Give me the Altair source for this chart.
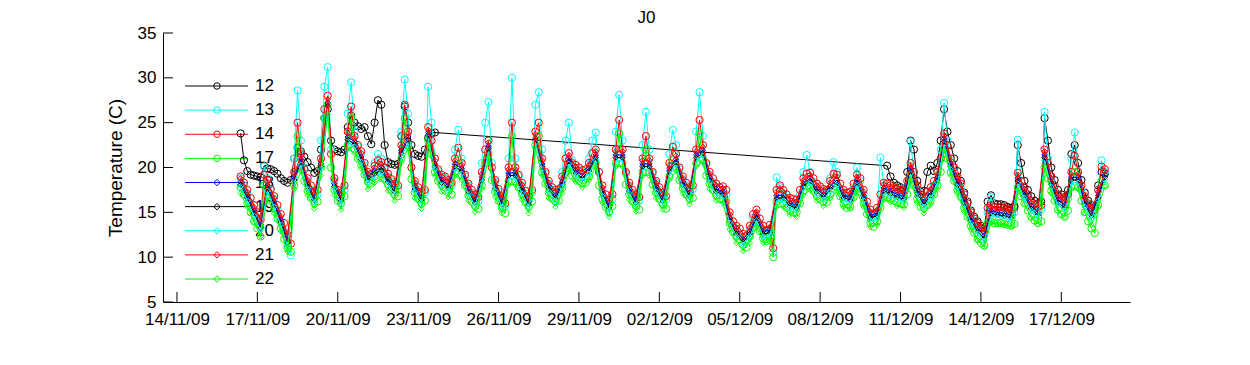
import altair as alt
import pandas as pd

# ---------------- data ----------------
series_names = ["12", "13", "14", "17", "18", "19", "20", "21", "22"]
series_colors = ["#000000", "#00ffff", "#ff0000", "#00ff00", "#0000ff",
                 "#000000", "#00ffff", "#ff0000", "#00ff00"]
series_shapes = ["circle", "circle", "circle", "circle",
                 "diamond", "diamond", "diamond", "diamond", "diamond"]

tick_dates = ["2009-11-14", "2009-11-17", "2009-11-20", "2009-11-23", "2009-11-26",
              "2009-11-29", "2009-12-02", "2009-12-05", "2009-12-08", "2009-12-11",
              "2009-12-14", "2009-12-17"]
y_ticks = [5, 10, 15, 20, 25, 30, 35]

start_3h = "2009-11-16 09:00"   # 3-hourly records
start_6h = "2009-11-16 09:00"   # 6-hourly records
start_12b = "2009-12-10 12:00"  # logger 12 second block

# logger 12 (black circles), block A from 16/11 09:00, 3-hourly
s12_a = [23.8, 20.8, 19.6, 19.2, 19.1,
         19.0, 18.9, 20.2, 19.9, 19.8, 19.6, 19.3, 18.8,
         18.5, 18.3, 18.6, 21.0, 22.2, 21.8, 21.2, 20.6,
         20.0, 19.4, 19.6, 22.0, 25.5, 26.5, 23.0, 22.0,
         21.8, 21.7, 22.0, 24.5, 25.8, 25.0, 24.6, 24.3,
         24.5, 23.5, 22.6, 25.0, 27.5, 27.0, 22.5, 20.6,
         20.4, 20.3, 20.4, 23.5, 26.8, 25.0, 22.5, 21.5,
         21.3, 21.2, 22.0, 23.3, 23.8, 23.9]
# logger 12, block B from 10/12 12:00, 3-hourly
s12_b = [20.2, 19.0, 18.3, 18.0,
         17.8, 17.6, 19.5, 23.0, 22.0, 18.5, 17.3, 17.4,
         19.5, 20.2, 19.6, 20.5, 23.0, 26.5, 24.0, 22.5,
         21.0, 19.6, 18.5, 17.2, 16.2, 15.2, 14.5, 14.0,
         13.5, 13.2, 16.2, 16.9, 16.0, 15.9, 15.9, 15.8,
         15.6, 15.5, 15.7, 22.5, 20.5, 18.5, 17.5, 16.8,
         16.3, 16.0, 16.2, 25.5, 23.0, 20.0, 18.6, 17.5,
         17.0, 16.7, 17.5, 21.5, 22.5, 20.5, 18.6, 17.2,
         16.3, 15.8, 15.6, 18.0, 19.5, 19.3]

# logger 13 (cyan circles), 3-hourly
s13 = [18.8, 18.0, 17.0, 16.0, 15.2,
       14.3, 13.3, 20.1, 18.8, 17.5, 16.5, 15.3, 14.0,
       12.8, 11.3, 10.2, 21.0, 28.6, 23.0, 20.0, 18.5,
       17.5, 16.8, 17.0, 23.0, 29.0, 31.2, 22.0, 18.5,
       17.0, 16.8, 17.5, 26.0, 29.5, 24.0, 22.3, 21.5,
       20.2, 19.2, 19.0, 20.5, 21.5, 21.0, 19.8, 19.0,
       18.4, 17.9, 17.6, 24.0, 29.8, 26.0, 20.0, 18.2,
       17.5, 17.0, 17.2, 29.0, 25.0, 21.0, 19.6, 19.0,
       18.8, 18.3, 18.0, 22.0, 24.2, 21.0, 19.0, 18.0,
       17.2, 16.6, 16.3, 20.5, 25.0, 27.3, 20.5, 18.4,
       17.3, 16.5, 15.7, 21.0, 30.0, 21.0, 19.0, 18.0,
       17.1, 16.5, 17.2, 27.0, 28.4, 22.0, 19.3, 18.2,
       17.5, 17.2, 17.3, 19.5, 23.0, 25.0, 20.8, 20.0,
       19.7, 19.3, 19.5, 21.0, 23.0, 23.9, 19.5, 17.5,
       16.5, 15.0, 16.5, 24.0, 28.1, 23.0, 19.3, 18.0,
       17.2, 16.7, 16.3, 22.5, 26.2, 22.0, 19.3, 18.3,
       17.5, 16.9, 16.4, 21.5, 24.2, 22.5, 19.8, 18.7,
       18.0, 17.5, 17.6, 24.0, 28.4, 23.5, 20.3, 19.2,
       18.4, 17.8, 17.3, 17.4, 17.0, 14.6, 13.6, 13.0,
       12.7, 12.1, 11.9, 13.0, 14.4, 14.8, 13.8, 13.0,
       12.5, 13.1, 10.5, 18.9, 17.8, 17.1, 16.6, 16.2,
       16.0, 15.9, 17.0, 19.5, 21.4, 19.5, 18.4, 17.7,
       17.4, 17.1, 17.0, 18.8, 20.6, 19.5, 17.7, 17.0,
       16.7, 16.8, 17.8, 20.0, 18.5, 17.0, 15.7, 14.8,
       14.4, 15.0, 21.1, 18.0, 17.6, 17.3, 17.0, 16.9,
       16.8, 16.7, 18.0, 22.9, 19.5, 17.5, 16.5, 16.3,
       16.8, 17.3, 18.0, 19.5, 22.0, 27.2, 23.0, 20.8,
       19.5, 18.5, 17.7, 16.5, 15.5, 14.5, 13.8, 13.3,
       12.8, 12.5, 15.0, 16.7, 15.0, 14.9, 14.9, 14.8,
       14.8, 14.7, 15.0, 23.1, 18.5, 17.3, 16.5, 15.8,
       15.4, 15.1, 15.3, 26.2, 21.0, 18.6, 17.5, 16.5,
       16.1, 15.9, 16.5, 21.0, 23.9, 19.5, 17.5, 16.3,
       15.5, 15.0, 14.8, 17.5, 20.8, 19.5]

# logger 14 (red circles), 3-hourly
s14 = [19.0, 18.3, 17.5, 16.6, 15.8,
       15.0, 14.2, 19.2, 18.6, 17.6, 16.8, 15.8, 14.8,
       13.8, 12.5, 11.5, 19.5, 25.0, 21.5, 19.8, 18.8,
       18.0, 17.3, 17.5, 21.0, 26.5, 28.0, 21.5, 18.8,
       17.5, 17.2, 18.0, 24.0, 26.8, 23.5, 22.5, 21.8,
       20.5, 19.5, 19.3, 20.2, 20.8, 20.6, 20.0, 19.3,
       18.7, 18.2, 18.0, 22.5, 27.0, 24.0, 20.0, 18.5,
       17.8, 17.3, 17.5, 24.5, 23.0, 21.0, 19.8, 19.2,
       19.0, 18.6, 18.3, 21.0, 22.2, 20.5, 19.2, 18.2,
       17.5, 17.0, 16.7, 19.5, 22.0, 23.0, 20.0, 18.6,
       17.6, 16.8, 16.0, 20.0, 25.0, 20.0, 19.2, 18.3,
       17.4, 16.8, 17.5, 24.0, 25.0, 21.0, 19.5, 18.5,
       17.8, 17.5, 17.6, 19.0, 21.0, 21.6, 20.5, 20.3,
       20.0, 19.7, 19.8, 20.5, 21.6, 22.0, 19.5, 18.0,
       17.0, 16.4, 17.0, 22.0, 25.3, 22.0, 19.5, 18.3,
       17.5, 17.0, 16.7, 21.0, 23.5, 21.0, 19.5, 18.5,
       17.8, 17.2, 16.8, 20.5, 22.3, 21.5, 20.0, 19.0,
       18.3, 17.8, 18.0, 22.0, 25.3, 22.5, 20.5, 19.5,
       18.8, 18.2, 17.8, 17.9, 17.5, 15.0, 14.0, 13.5,
       13.2, 12.6, 12.4, 13.5, 14.8, 15.3, 14.3, 13.5,
       13.0, 13.6, 11.0, 17.5, 18.0, 17.5, 17.0, 16.6,
       16.5, 16.4, 17.5, 18.8, 19.3, 19.4, 18.8, 18.2,
       17.9, 17.6, 17.5, 18.5, 19.3, 19.2, 18.2, 17.5,
       17.2, 17.3, 18.2, 19.2, 18.8, 17.5, 16.2, 15.3,
       14.9, 15.5, 17.0, 18.3, 18.2, 18.0, 17.8, 17.6,
       17.5, 17.4, 18.5, 20.5, 19.5, 18.0, 17.0, 16.8,
       17.3, 17.8, 18.5, 19.5, 21.0, 23.8, 22.5, 21.0,
       20.0, 19.0, 18.2, 17.0, 16.0, 15.0, 14.3, 13.8,
       13.3, 13.0, 15.5, 15.8, 15.6, 15.6, 15.6, 15.5,
       15.4, 15.3, 15.5, 19.4, 18.5, 17.8, 17.0, 16.3,
       15.9, 15.6, 15.8, 22.0, 20.5, 19.0, 18.0, 17.0,
       16.6, 16.4, 17.0, 19.5, 21.3, 19.5, 18.0, 16.8,
       16.0, 15.5, 15.3, 17.5, 20.1, 19.8]

# logger 17 (green circles), 3-hourly
s17 = [17.8, 17.0, 16.0, 15.0, 14.0,
       13.2, 12.3, 18.0, 17.3, 16.3, 15.4, 14.3, 13.2,
       12.0, 11.0, 10.6, 18.0, 23.5, 20.0, 18.5, 17.4,
       16.6, 16.0, 16.2, 20.0, 25.5, 27.0, 20.0, 17.5,
       16.3, 16.0, 16.8, 22.5, 25.5, 22.0, 21.0, 20.3,
       19.2, 18.4, 18.2, 19.0, 19.5, 19.3, 18.8, 18.1,
       17.5, 17.0, 16.8, 21.0, 25.5, 22.5, 18.7, 17.2,
       16.5, 16.0, 16.3, 23.0, 21.5, 19.5, 18.5, 18.0,
       17.8, 17.4, 17.0, 19.5, 20.8, 19.2, 18.0, 16.9,
       16.2, 15.7, 15.4, 18.0, 20.5, 21.5, 18.6, 17.3,
       16.3, 15.5, 14.9, 18.5, 23.5, 18.5, 17.8, 17.0,
       16.1, 15.6, 16.2, 22.5, 23.5, 19.5, 18.2, 17.2,
       16.5, 16.2, 16.3, 17.7, 19.5, 20.2, 19.1, 18.8,
       18.5, 18.2, 18.3, 19.0, 20.2, 20.5, 18.0, 16.5,
       15.6, 15.1, 15.7, 20.5, 23.8, 20.5, 18.1, 17.0,
       16.2, 15.7, 15.3, 19.5, 22.0, 19.5, 18.1, 17.2,
       16.5, 15.9, 15.4, 19.0, 20.8, 20.0, 18.6, 17.7,
       17.0, 16.5, 16.6, 20.5, 23.8, 21.0, 19.1, 18.2,
       17.5, 16.9, 16.5, 16.5, 16.2, 13.8, 12.8, 12.3,
       12.0, 11.4, 11.1, 12.3, 13.4, 13.8, 12.9, 12.1,
       11.8, 12.3, 10.0, 16.2, 16.5, 16.0, 15.5, 15.2,
       15.0, 15.0, 16.0, 17.4, 17.9, 18.0, 17.4, 16.8,
       16.5, 16.2, 16.1, 17.0, 17.9, 17.8, 16.8, 16.0,
       15.5, 15.6, 16.7, 17.7, 17.3, 16.0, 14.8, 13.8,
       13.4, 14.0, 15.5, 16.8, 16.7, 16.5, 16.3, 16.1,
       16.0, 15.9, 17.0, 19.0, 18.0, 16.5, 15.6, 15.5,
       15.8, 16.3, 17.0, 18.0, 19.5, 22.0, 21.0, 19.5,
       18.5, 17.5, 16.7, 15.5, 14.5, 13.5, 12.7, 12.0,
       11.6, 11.3, 13.8, 14.0, 13.8, 13.8, 13.8, 13.7,
       13.6, 13.5, 13.7, 17.8, 16.8, 16.0, 15.2, 14.5,
       14.1, 13.8, 14.0, 20.0, 18.8, 17.4, 16.3, 15.3,
       14.8, 14.5, 15.2, 17.8, 19.5, 17.8, 16.3, 15.0,
       14.0, 13.2, 12.7, 15.8, 18.5, 18.0]

# loggers 18-22 (diamonds), 6-hourly
s18 = [18.4, 16.9, 15.2,
       13.6, 18.0, 16.2, 14.2,
       11.9, 18.9, 20.9, 18.2,
       16.7, 20.4, 27.2, 18.2,
       16.6, 23.4, 22.9, 21.2,
       18.9, 19.6, 20.0, 18.7,
       17.6, 21.9, 23.4, 17.9,
       16.7, 23.9, 20.4, 18.6,
       18.0, 20.4, 19.9, 17.6,
       16.4, 18.9, 22.4, 18.0,
       16.2, 19.4, 19.4, 17.7,
       16.2, 23.3, 20.4, 17.9,
       16.9, 18.4, 21.0, 19.7,
       19.1, 19.9, 21.4, 17.4,
       15.8, 21.4, 21.4, 17.7,
       16.4, 20.4, 20.4, 17.9,
       16.6, 19.9, 20.9, 18.4,
       17.2, 21.4, 21.9, 18.9,
       17.6, 17.3, 14.4, 12.9,
       12.0, 12.9, 14.7, 12.9,
       13.0, 16.9, 16.9, 16.0,
       15.8, 18.2, 18.8, 17.6,
       17.0, 17.9, 18.6, 16.9,
       16.7, 18.6, 16.9, 14.7,
       14.9, 17.7, 17.4, 17.0,
       16.8, 19.9, 17.4, 16.2,
       17.2, 18.9, 23.2, 20.4,
       18.4, 16.4, 14.4, 13.2,
       12.4, 15.2, 15.0, 14.9,
       14.7, 18.8, 17.2, 15.7,
       15.0, 21.4, 18.4, 16.4,
       15.8, 18.9, 18.9, 16.2,
       14.9, 16.9, 19.2]

s19 = [18.1, 16.6, 14.9,
       13.3, 17.7, 15.9, 13.9,
       11.6, 18.6, 20.6, 17.9,
       16.4, 20.1, 26.9, 17.9,
       16.3, 23.1, 22.6, 20.9,
       18.6, 19.3, 19.7, 18.4,
       17.3, 21.6, 23.1, 17.6,
       16.4, 23.6, 20.1, 18.3,
       17.7, 20.1, 19.6, 17.3,
       16.1, 18.6, 22.1, 17.7,
       15.9, 19.1, 19.1, 17.4,
       15.9, 23.0, 20.1, 17.6,
       16.6, 18.1, 20.7, 19.4,
       18.8, 19.6, 21.1, 17.1,
       15.5, 21.1, 21.1, 17.4,
       16.1, 20.1, 20.1, 17.6,
       16.3, 19.6, 20.6, 18.1,
       16.9, 21.1, 21.6, 18.6,
       17.3, 17.0, 14.1, 12.6,
       11.7, 12.6, 14.4, 12.6,
       12.7, 16.6, 16.6, 15.7,
       15.5, 17.9, 18.5, 17.3,
       16.7, 17.6, 18.3, 16.6,
       16.4, 18.3, 16.6, 14.4,
       14.6, 17.4, 17.1, 16.7,
       16.5, 19.6, 17.1, 15.9,
       16.9, 18.6, 22.9, 20.1,
       18.1, 16.1, 14.1, 12.9,
       12.1, 14.9, 14.7, 14.6,
       14.4, 18.5, 16.9, 15.4,
       14.7, 21.1, 18.1, 16.1,
       15.5, 18.6, 18.6, 15.9,
       14.6, 16.6, 18.9]

s20 = [17.8, 16.3, 14.6,
       13.0, 17.4, 15.6, 13.6,
       11.3, 18.3, 20.3, 17.6,
       16.1, 19.8, 26.6, 17.6,
       16.0, 22.8, 22.3, 20.6,
       18.3, 19.0, 19.4, 18.1,
       17.0, 21.3, 22.8, 17.3,
       16.1, 23.3, 19.8, 18.0,
       17.4, 19.8, 19.3, 17.0,
       15.8, 18.3, 21.8, 17.4,
       15.6, 18.8, 18.8, 17.1,
       15.6, 22.8, 19.8, 17.3,
       16.3, 17.8, 20.4, 19.1,
       18.5, 19.3, 20.8, 16.8,
       15.2, 20.8, 20.8, 17.1,
       15.8, 19.8, 19.8, 17.3,
       16.0, 19.3, 20.3, 17.8,
       16.6, 20.8, 21.3, 18.3,
       17.0, 16.7, 13.8, 12.3,
       11.4, 12.3, 14.1, 12.3,
       12.4, 16.3, 16.3, 15.4,
       15.2, 17.6, 18.2, 17.0,
       16.4, 17.3, 18.0, 16.3,
       16.1, 18.0, 16.3, 14.1,
       14.3, 17.1, 16.8, 16.4,
       16.2, 19.3, 16.8, 15.6,
       16.6, 18.3, 22.6, 19.8,
       17.8, 15.8, 13.8, 12.6,
       11.8, 14.6, 14.4, 14.3,
       14.1, 18.2, 16.6, 15.1,
       14.4, 20.8, 17.8, 15.8,
       15.2, 18.3, 18.3, 15.6,
       14.3, 16.3, 18.6]

s21 = [18.8, 17.3, 15.6,
       14.0, 18.4, 16.6, 14.6,
       12.3, 19.3, 21.3, 18.6,
       17.1, 20.8, 27.6, 18.6,
       17.0, 23.8, 23.3, 21.6,
       19.3, 20.0, 20.4, 19.1,
       18.0, 22.3, 23.8, 18.3,
       17.1, 24.2, 20.8, 19.0,
       18.4, 20.8, 20.3, 18.0,
       16.8, 19.3, 22.8, 18.4,
       16.6, 19.8, 19.8, 18.1,
       16.6, 23.7, 20.8, 18.3,
       17.3, 18.8, 21.4, 20.1,
       19.5, 20.3, 21.8, 17.8,
       16.2, 21.8, 21.8, 18.1,
       16.8, 20.8, 20.8, 18.3,
       17.0, 20.3, 21.3, 18.8,
       17.6, 21.8, 22.3, 19.3,
       18.0, 17.7, 14.8, 13.3,
       12.4, 13.3, 15.1, 13.3,
       13.4, 17.3, 17.3, 16.4,
       16.2, 18.6, 19.2, 18.0,
       17.4, 18.3, 19.0, 17.3,
       17.1, 19.0, 17.3, 15.1,
       15.3, 18.1, 17.8, 17.4,
       17.2, 20.3, 17.8, 16.6,
       17.6, 19.3, 23.6, 20.8,
       18.8, 16.8, 14.8, 13.6,
       12.8, 15.6, 15.4, 15.3,
       15.1, 19.2, 17.6, 16.1,
       15.4, 21.8, 18.8, 16.8,
       16.2, 19.3, 19.3, 16.6,
       15.3, 17.3, 19.6]

s22 = [17.1, 15.6, 13.9,
       12.3, 16.7, 14.9, 12.9,
       10.6, 17.6, 19.6, 16.9,
       15.4, 19.1, 25.9, 16.9,
       15.3, 22.1, 21.6, 19.9,
       17.6, 18.3, 18.7, 17.4,
       16.3, 20.6, 22.1, 16.6,
       15.4, 22.6, 19.1, 17.3,
       16.7, 19.1, 18.6, 16.3,
       15.1, 17.6, 21.1, 16.7,
       14.9, 18.1, 18.1, 16.4,
       14.9, 22.1, 19.1, 16.6,
       15.6, 17.1, 19.7, 18.4,
       17.8, 18.6, 20.1, 16.1,
       14.5, 20.1, 20.1, 16.4,
       15.1, 19.1, 19.1, 16.6,
       15.3, 18.6, 19.6, 17.1,
       15.9, 20.1, 20.6, 17.6,
       16.3, 16.0, 13.1, 11.6,
       10.7, 11.6, 13.4, 11.6,
       11.7, 15.6, 15.6, 14.7,
       14.5, 16.9, 17.5, 16.3,
       15.7, 16.6, 17.3, 15.6,
       15.4, 17.3, 15.6, 13.4,
       13.6, 16.4, 16.1, 15.7,
       15.5, 18.6, 16.1, 14.9,
       15.9, 17.6, 21.9, 19.1,
       17.1, 15.1, 13.1, 11.9,
       11.1, 13.9, 13.7, 13.6,
       13.4, 17.5, 15.9, 14.4,
       13.7, 20.1, 17.1, 15.1,
       14.5, 17.6, 17.6, 14.9,
       13.6, 15.6, 17.9]


def frame(name, start, step, values):
    return pd.DataFrame({
        "t": pd.date_range(start, periods=len(values), freq=step),
        "v": values,
        "series": name,
    })


frames = {
    "12": pd.concat([frame("12", start_3h, "3h", s12_a),
                     frame("12", start_12b, "3h", s12_b)], ignore_index=True),
    "13": frame("13", start_3h, "3h", s13),
    "14": frame("14", start_3h, "3h", s14),
    "17": frame("17", start_3h, "3h", s17),
    "18": frame("18", start_6h, "6h", s18),
    "19": frame("19", start_6h, "6h", s19),
    "20": frame("20", start_6h, "6h", s20),
    "21": frame("21", start_6h, "6h", s21),
    "22": frame("22", start_6h, "6h", s22),
}

# ---------------- layout ----------------
W, H = 967, 269
FONT = "Liberation Sans"
FS = 17

tick_ts = [pd.Timestamp(d) for d in tick_dates]
x_scale = alt.Scale(domain=[alt.DateTime(year=2009, month=11, date=13, hours=11, minutes=30),
                            alt.DateTime(year=2009, month=12, date=19, hours=13, minutes=30)])
y_scale = alt.Scale(domain=[5, 35], nice=False, zero=False)

x_axis = alt.Axis(values=[alt.DateTime(year=t.year, month=t.month, date=t.day) for t in tick_ts],
                  format="%d/%m/%y", ticks=False, tickSize=0, grid=False,
                  labelPadding=9, labelFontSize=FS, labelFont=FONT, labelColor="black",
                  domainColor="black", domainWidth=1, labelFlush=False, labelOverlap=False)
y_axis = alt.Axis(values=y_ticks, ticks=False, tickSize=0, grid=False,
                  labelPadding=7, labelFontSize=FS, labelFont=FONT, labelColor="black",
                  domainColor="black", domainWidth=1, title="Temperature (C)",
                  titleFontSize=19, titleFont=FONT, titleFontWeight="normal",
                  titleColor="black", titlePadding=12)

X = alt.X("t:T", scale=x_scale, axis=x_axis, title=None)
Y = alt.Y("v:Q", scale=y_scale, axis=y_axis)

layers = []
for name, color, shape in zip(series_names, series_colors, series_shapes):
    df = frames[name]
    size = 52 if shape == "circle" else 30
    layers.append(alt.Chart(df).mark_line(color=color, strokeWidth=1).encode(x=X, y=Y))
    layers.append(alt.Chart(df).mark_point(shape=shape, filled=False, size=size,
                                           strokeWidth=1, color=color, opacity=1)
                  .encode(x=X, y=Y))

# inward ticks
xt_df = pd.DataFrame({"t": tick_ts})
yt_df = pd.DataFrame({"v": y_ticks})
layers.append(alt.Chart(xt_df).mark_rule(color="black", strokeWidth=1)
              .encode(x=X, y=alt.value(H), y2=alt.value(H - 10)))
layers.append(alt.Chart(yt_df).mark_rule(color="black", strokeWidth=1)
              .encode(y=Y, x=alt.value(0), x2=alt.value(10)))

data_chart = alt.layer(*layers)

# legend (inside the axes, upper left)
leg_df = pd.DataFrame({"series": series_names, "color": series_colors, "shape": series_shapes})
leg_y = alt.Y("series:N", scale=alt.Scale(type="point", domain=series_names,
                                          range=[53, 246], padding=0), axis=None)
leg_color = alt.Color("series:N", scale=alt.Scale(domain=series_names, range=series_colors),
                      legend=None)
leg_shape = alt.Shape("series:N", scale=alt.Scale(domain=series_names, range=series_shapes),
                      legend=None)
leg_base = alt.Chart(leg_df)
legend_chart = alt.layer(
    leg_base.mark_rule(strokeWidth=1).encode(x=alt.value(22), x2=alt.value(85),
                                             y=leg_y, color=leg_color),
    leg_base.mark_point(filled=False, size=42, strokeWidth=1, opacity=1)
    .encode(x=alt.value(54), y=leg_y, color=leg_color, shape=leg_shape),
    leg_base.mark_text(align="left", baseline="middle", font=FONT, fontSize=FS, color="black")
    .encode(x=alt.value(92), y=leg_y, text="series:N"),
)

chart = (
    alt.layer(legend_chart, data_chart)
    .resolve_scale(y="independent", color="independent", shape="independent")
    .properties(
        width=W, height=H,
        title=alt.TitleParams("J0", fontSize=FS, font=FONT, fontWeight="normal",
                              color="black", offset=1, dy=4),
        autosize=alt.AutoSizeParams(type="none"),
        padding={"left": 155, "top": 25, "right": 112, "bottom": 55},
        background="white",
    )
    .configure_view(stroke=None)
)

chart.save("out.html", embed_options={"renderer": "svg", "actions": False})
